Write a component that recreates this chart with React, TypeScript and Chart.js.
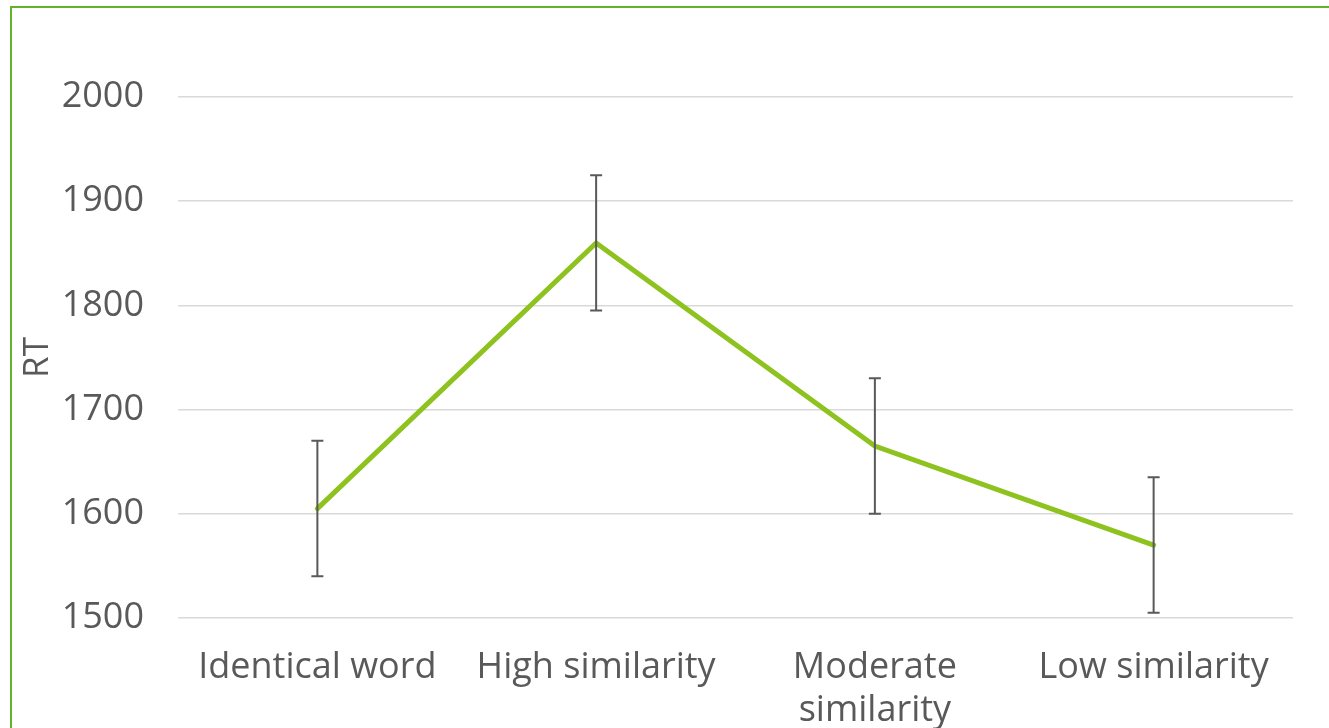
import React, { useEffect, useRef } from "react";
import { Chart, registerables } from "chart.js";

Chart.register(...registerables);

const categories: (string | string[])[] = [
  "Identical word",
  "High similarity",
  ["Moderate", "similarity"],
  "Low similarity",
];
const rtValues = [1605, 1860, 1665, 1570];
const rtErrors = [65, 65, 65, 65];
const yTicks = { min: 1500, max: 2000, step: 100 };
const yTitle = "RT";

const FONT = "'Open Sans', sans-serif";
const TEXT = "#595959";

const errorBarPlugin = {
  id: "errorBars",
  afterDatasetsDraw(chart: any) {
    const { ctx, scales } = chart;
    const xs = scales.x;
    const ys = scales.y;
    ctx.save();
    ctx.strokeStyle = "#595959";
    ctx.lineWidth = 2;
    rtValues.forEach((v, i) => {
      const x = xs.getPixelForValue(i);
      const yTop = ys.getPixelForValue(v + rtErrors[i]);
      const yBot = ys.getPixelForValue(v - rtErrors[i]);
      ctx.beginPath();
      ctx.moveTo(x, yTop);
      ctx.lineTo(x, yBot);
      ctx.moveTo(x - 6, yTop);
      ctx.lineTo(x + 6, yTop);
      ctx.moveTo(x - 6, yBot);
      ctx.lineTo(x + 6, yBot);
      ctx.stroke();
    });
    ctx.restore();
  },
};

export default function App() {
  const ref = useRef<HTMLCanvasElement>(null);
  useEffect(() => {
    document.body.style.margin = "0";
    const chart = new Chart(ref.current!, {
      type: "line",
      data: {
        labels: categories as any,
        datasets: [
          {
            data: rtValues,
            borderColor: "#8DC21F",
            borderWidth: 5,
            pointRadius: 0,
            borderCapStyle: "round",
            borderJoinStyle: "miter",
            tension: 0,
            fill: false,
          },
        ],
      },
      options: {
        animation: false,
        responsive: false,
        maintainAspectRatio: false,
        layout: { padding: { left: 0, right: 36, top: 97, bottom: 0 } },
        plugins: { legend: { display: false }, tooltip: { enabled: false } },
        scales: {
          x: {
            offset: true,
            grid: { display: false, drawTicks: false },
            border: { display: false },
            ticks: {
              color: TEXT,
              font: { family: FONT, size: 36, lineHeight: 1.19 },
              padding: 28,
              maxRotation: 0,
              autoSkip: false,
            },
            afterFit: (s: any) => {
              s.height = 110;
            },
          },
          y: {
            min: yTicks.min,
            max: yTicks.max,
            grid: { color: "#d9d9d9", lineWidth: 1.5, drawTicks: false },
            border: { display: false },
            ticks: {
              stepSize: yTicks.step,
              color: TEXT,
              font: { family: FONT, size: 36 },
              padding: 34,
              callback: (v: any) => String(v),
            },
            title: {
              display: true,
              text: yTitle,
              color: TEXT,
              font: { family: FONT, size: 35 },
              padding: { top: 17, bottom: 0 },
            },
            afterFit: (s: any) => {
              s.width = 178;
            },
          },
        },
      },
      plugins: [errorBarPlugin],
    });
    return () => chart.destroy();
  }, []);
  return (
    <div style={{ position: "relative", width: 1329, height: 728, overflow: "hidden", background: "#fff" }}>
      <canvas ref={ref} width={1329} height={728} style={{ position: "absolute", left: 0, top: 0 }} />
      <div
        style={{
          position: "absolute",
          left: 10,
          top: 6,
          width: 1400,
          height: 800,
          borderLeft: "2px solid #62B22F",
          borderTop: "2px solid #62B22F",
          pointerEvents: "none",
        }}
      />
    </div>
  );
}
